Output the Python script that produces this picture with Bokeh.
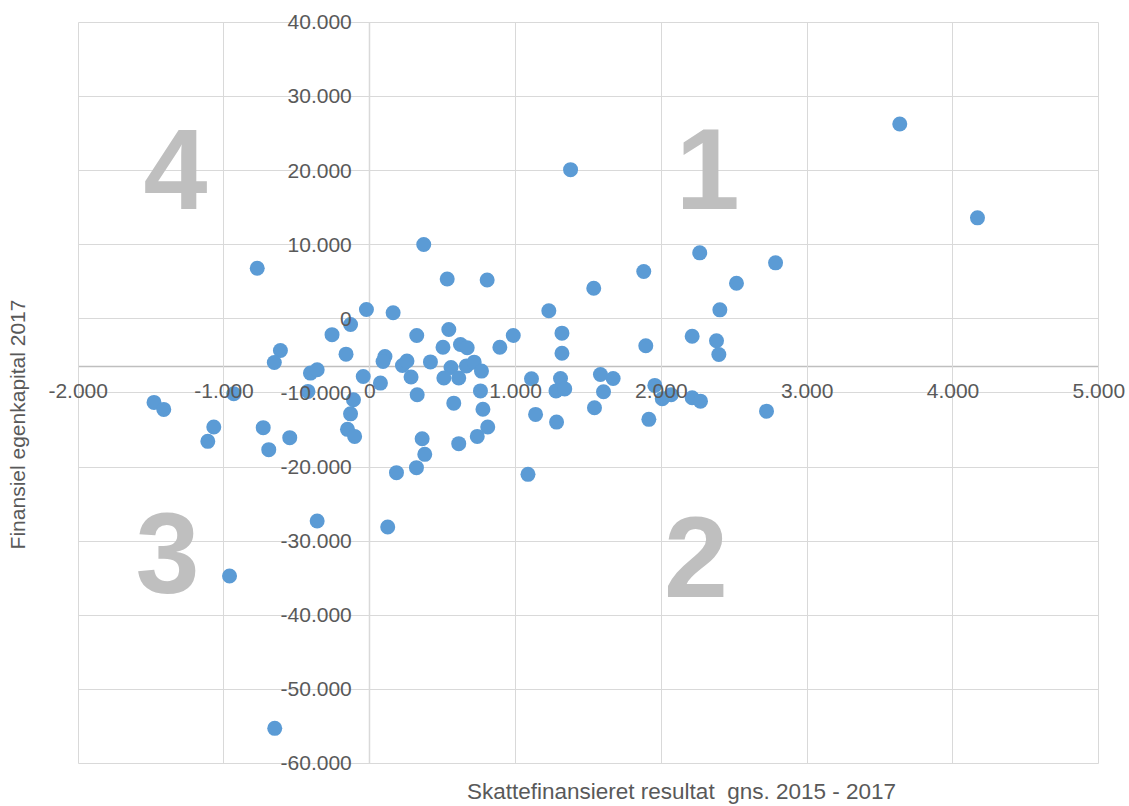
import math
from bokeh.plotting import figure
from bokeh.models import FixedTicker, CustomJSTickFormatter, Label, Range1d, Grid, LinearAxis
from bokeh.embed import file_html
from bokeh.resources import INLINE

# ---- data ----
x_vals = [-772, -1480, -1413, -1070, -1111, -933, -962, -652, -731, -693,
          -549, -361, -613, -655, -407, -361, -424, -259, -163, -132,
          -23, -45, -112, -132, -153, -104, 73, 104, 91, 160,
          224, 255, 283, 322, 325, 416, 370, 531, 805, 542,
          502, 622, 668, 557, 508, 610, 663, 716, 766, 759,
          576, 776, 809, 737, 359, 610, 377, 320, 183, 123,
          892, 984, 1228, 1109, 1137, 1085, 1377, 1318, 1318, 1308,
          1277, 1337, 1281, 1536, 1582, 1669, 1603, 1541, 1879, 1893,
          1955, 2006, 2067, 1914, 2211, 2211, 2268, 2263, 2515, 2401,
          2378, 2394, 2783, 2721, 3635, 4168]
y_vals = [6820, -11280, -12230, -14610, -16540, -10110, -34700, -55270, -14690, -17660,
          -16040, -27280, -4270, -5890, -7330, -6880, -9800, -2140, -4770, -770,
          1250, -7780, -10920, -12830, -14920, -15870, -8680, -5080, -5760, 810,
          -6300, -5690, -7850, -2250, -10250, -5820, 10020, 5370, 5230, -1440,
          -3830, -3460, -3910, -6570, -7980, -7980, -6360, -5850, -7060, -9730,
          -11380, -12200, -14610, -15870, -16180, -16850, -18290, -20090, -20760, -28090,
          -3830, -2250, 1090, -8090, -12900, -20990, 20130, -1940, -4640, -8050,
          -9730, -9460, -13940, 4120, -7510, -8050, -9840, -12000, 6380, -3640,
          -8990, -10780, -10250, -13570, -2350, -10650, -11110, 8900, 4800, 1210,
          -2970, -4810, 7550, -12460, 26290, 13620]

x_ticks = [-2000, -1000, 0, 1000, 2000, 3000, 4000, 5000]
y_ticks = [-60000, -50000, -40000, -30000, -20000, -10000, 0, 10000, 20000, 30000, 40000]
# (the reference has a double space before "gns."; a no-break space keeps it visible in SVG)
x_title = "Skattefinansieret resultat \u00a0gns. 2015 - 2017"
y_title = "Finansiel egenkapital 2017"
quadrant_texts = ["1", "2", "3", "4"]

# ---- styling / layout ----
FONT = "Liberation Sans"
LABEL_COLOR = "#595959"
GRID_COLOR = "#d9d9d9"
AXIS_COLOR = "#bfbfbf"
POINT_COLOR = "#5B9BD5"
X_AXIS_CROSS = -6400
W, H = 1129, 806
# visible window slightly wider than the plot area so edge labels are not clipped
XR = (-2532.9, 5210.6)
YR = (-65816, 42955)

p = figure(width=W, height=H, min_border=0,
           x_range=Range1d(*XR), y_range=Range1d(*YR),
           output_backend="svg", toolbar_location=None)
p.outline_line_color = None
p.background_fill_color = "white"
p.border_fill_color = "white"

fmt = CustomJSTickFormatter(code=r"""
const a = Math.abs(Math.round(tick));
const s = a.toString().replace(/\B(?=(\d{3})+(?!\d))/g, ".");
return (tick < 0 ? "-" : "") + s;
""")

x_bounds = (x_ticks[0], x_ticks[-1])
y_bounds = (y_ticks[0], y_ticks[-1])

# gridlines limited to the plot area
p.xgrid.ticker = FixedTicker(ticks=x_ticks)
p.ygrid.ticker = FixedTicker(ticks=y_ticks)
p.xgrid.bounds = x_bounds
p.ygrid.bounds = y_bounds
has_cross = "cross_bounds" in Grid.properties()
if has_cross:
    p.xgrid.cross_bounds = y_bounds
    p.ygrid.cross_bounds = x_bounds
    for g in (p.xgrid, p.ygrid):
        g.grid_line_color = GRID_COLOR
        g.grid_line_width = 1
else:
    p.xgrid.grid_line_color = None
    p.ygrid.grid_line_color = None
    p.segment(x0=x_ticks, x1=x_ticks, y0=[y_bounds[0]] * len(x_ticks), y1=[y_bounds[1]] * len(x_ticks),
              line_color=GRID_COLOR, line_width=1, level="underlay")
    p.segment(x0=[x_bounds[0]] * len(y_ticks), x1=[x_bounds[1]] * len(y_ticks), y0=y_ticks, y1=y_ticks,
              line_color=GRID_COLOR, line_width=1, level="underlay")

# axis lines drawn below the points
line_x = LinearAxis(fixed_location=X_AXIS_CROSS, bounds=x_bounds, ticker=FixedTicker(ticks=[]),
                    axis_line_color=AXIS_COLOR, axis_line_width=1.3, level="underlay",
                    major_tick_in=0, major_tick_out=0, minor_tick_in=0, minor_tick_out=0)
line_y = LinearAxis(fixed_location=0, bounds=y_bounds, ticker=FixedTicker(ticks=[]),
                    axis_line_color=AXIS_COLOR, axis_line_width=1.3, level="underlay",
                    major_tick_in=0, major_tick_out=0, minor_tick_in=0, minor_tick_out=0)
p.add_layout(line_x, "below")
p.add_layout(line_y, "left")

# labelled axes (tick labels above points, like the reference)
p.xaxis[0].ticker = FixedTicker(ticks=x_ticks)
p.yaxis[0].ticker = FixedTicker(ticks=y_ticks)
p.xaxis[0].fixed_location = X_AXIS_CROSS
p.yaxis[0].fixed_location = 0
p.xaxis[0].bounds = x_bounds
p.yaxis[0].bounds = y_bounds
for ax in (p.xaxis[0], p.yaxis[0]):
    ax.formatter = fmt
    ax.major_tick_in = 0
    ax.major_tick_out = 0
    ax.minor_tick_in = 0
    ax.minor_tick_out = 0
    ax.axis_line_color = None
    ax.major_label_text_font = FONT
    ax.major_label_text_font_size = "21px"
    ax.major_label_text_color = LABEL_COLOR
p.xaxis[0].major_label_standoff = 18
p.yaxis[0].major_label_standoff = 18

p.scatter(x_vals, y_vals, size=15, fill_color=POINT_COLOR, line_color=None)

# quadrant numbers
quad_pos = {"4": (-1333, 20150), "1": (2317, 20150), "3": (-1388, -31540), "2": (2237, -32210)}
for t in quadrant_texts:
    qx, qy = quad_pos[t]
    p.add_layout(Label(x=qx, y=qy, text=t, text_font=FONT, text_font_size="115px",
                       text_font_style="bold", text_color="#bfbfbf",
                       text_align="center", text_baseline="alphabetic"))

# axis titles
p.add_layout(Label(x=2138, y=-63790, text=x_title, text_font=FONT, text_font_size="22.5px",
                   text_color=LABEL_COLOR, text_align="center", text_baseline="middle"))
p.add_layout(Label(x=-2416, y=-14260, text=y_title, text_font=FONT, text_font_size="21px",
                   text_color=LABEL_COLOR, text_align="center", text_baseline="middle",
                   angle=math.pi / 2))

open("out.html", "w").write(file_html(p, INLINE))
